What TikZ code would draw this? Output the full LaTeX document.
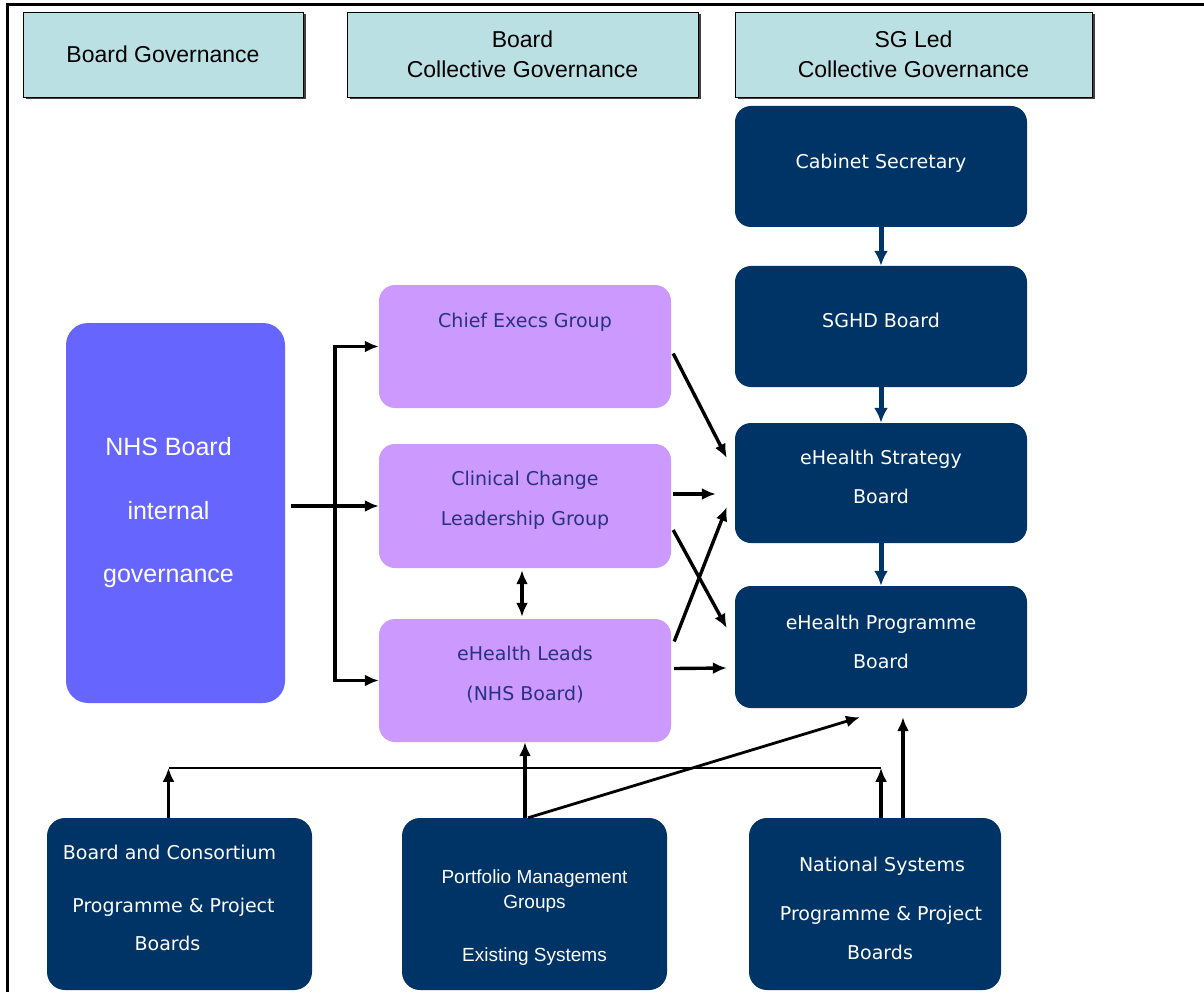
\documentclass[tikz,border=0pt]{standalone}
\usepackage{fontspec}
\setmainfont{Liberation Sans}
\newfontfamily\vfont{DejaVu Sans}
\usetikzlibrary{arrows.meta,calc,shadows}
\definecolor{hdr}{RGB}{187,224,227}
\definecolor{navy}{RGB}{0,51,102}
\definecolor{lilac}{RGB}{204,153,255}
\definecolor{nhsblue}{RGB}{102,102,255}
\definecolor{lilactext}{RGB}{40,50,130}
\newcommand{\pad}[1]{\rule{#1}{0pt}}
\begin{document}
\begin{tikzpicture}[x=1pt,y=-1pt,
  hdrbox/.style={draw=black, line width=0.9pt, fill=hdr, minimum height=85pt, inner sep=0pt, align=center,
    font=\fontsize{23}{30}\selectfont,
    drop shadow={shadow xshift=2.5pt, shadow yshift=-2.5pt, fill=black!75, opacity=1}},
  navybox/.style={fill=navy, rounded corners=16pt, minimum width=292pt, text=white, align=center, inner sep=0pt,
    font=\vfont\fontsize{19}{39}\selectfont},
  lilacbox/.style={fill=lilac, rounded corners=16pt, minimum width=292pt, text=lilactext, align=center, inner sep=0pt,
    font=\vfont\fontsize{19}{40}\selectfont},
  botbox/.style={fill=navy, rounded corners=18pt, minimum height=172pt, text=white, align=center, inner sep=0pt},
  arr/.style={line width=3.4pt, -{Latex[length=14pt,width=12pt]}},
  darr/.style={line width=3.4pt, {Latex[length=14pt,width=12pt]}-{Latex[length=14pt,width=12pt]}},
  navyarr/.style={draw=navy, line width=5pt, -{Latex[length=15pt,width=14pt]}},
]
\useasboundingbox (0,0) rectangle (1204,992);
\fill[white] (0,0) rectangle (1204,992);
% frame
\draw[line width=3pt] (7,992) -- (7,5) -- (1204,5);

% headers
\node[hdrbox, minimum width=280pt] (h1) at (163,54.5) {Board Governance};
\node[hdrbox, minimum width=351pt] (h2) at (522.5,54.5) {Board\\Collective Governance};
\node[hdrbox, minimum width=357pt] (h3) at (913.5,54.5) {SG Led\\Collective Governance};

% SG column
\node[navybox, minimum height=121pt, text depth=11pt] (cab) at (881,166.5) {Cabinet Secretary};
\node[navybox, minimum height=121pt, text depth=13pt] (sghd) at (881,326.5) {SGHD Board};
\node[navybox, minimum height=120pt, text depth=13pt] (strat) at (881,483) {eHealth Strategy\\Board};
\node[navybox, minimum height=122pt, text depth=10pt] (prog) at (881,647) {eHealth Programme\\Board};

% lilac column
\node[lilacbox, minimum height=123pt, text depth=53pt] (chief) at (525,346.5) {Chief Execs Group};
\node[lilacbox, minimum height=124pt, text depth=16pt] (clin) at (525,506) {Clinical Change\\Leadership Group};
\node[lilacbox, minimum height=123pt, text depth=14pt] (leads) at (525,680.5) {eHealth Leads\\(NHS Board)};

% NHS board
\node[fill=nhsblue, rounded corners=22pt, minimum width=219pt, minimum height=380pt, text=white, align=center, inner sep=0pt,
  font=\fontsize{25}{63.5}\selectfont] (nhs) at (175.5,513)
  {NHS Board\pad{14pt}\\internal\pad{14pt}\\governance\pad{14pt}};

% bottom row
\node[botbox, minimum width=265pt, text depth=13pt, font=\vfont\fontsize{19}{38}\selectfont] (bc) at (179.5,904)
  {Board and Consortium\pad{20pt}\\[15pt]Programme \& Project\pad{12pt}\\Boards\pad{24pt}};
\node[botbox, minimum width=265pt, text height=118pt, font=\fontsize{19}{25}\selectfont] (port) at (534.5,904)
  {Portfolio Management\\Groups\\[28pt]Existing Systems};
\node[botbox, minimum width=252pt, text height=112pt, font=\vfont\fontsize{19}{39}\selectfont] (nat) at (875,904)
  {\pad{14pt}National Systems\\[10pt]\pad{12pt}Programme \& Project\\\pad{10pt}Boards};

% navy arrows
\draw[navyarr] (cab.south) -- (sghd.north);
\draw[navyarr] (sghd.south) -- (strat.north);
\draw[navyarr] (strat.south) -- (prog.north);

% NHS to lilac
\coordinate (j) at (335,507);
\draw[arr, shorten <=6pt] (nhs.east |- clin.west) -- (clin.west);
\draw[darr] (chief.west) -| (j) |- (leads.west);

% lilac to SG
\draw[arr] ($(chief.east)+(2,7)$) -- ($(strat.west)+(-8,-25)$);
\draw[arr] ($(clin.east)+(2,-12)$) -- ($(strat.west)+(-19,11)$);
\draw[arr] ($(clin.east)+(2,24)$) -- ($(prog.west)+(-8,-19)$);
\draw[arr] ($(leads.east)+(3,-39)$) -- ($(strat.west)+(-8,24)$);
\draw[arr] ($(leads.east)+(3,-12)$) -- ($(prog.west)+(-8,21)$);
\draw[darr] ($(clin.south)+(-3,2)$) -- ($(leads.north)+(-3,-2)$);

% bottom connectors
\coordinate (hl1) at ($(bc.north)+(-11,-50)$);
\coordinate (hl2) at ($(nat.north)+(6,-50)$);
\draw[line width=2pt] (hl1) -- (hl2);
\draw[arr] ($(bc.north)+(-11,0)$) -- (hl1);
\draw[arr] ($(nat.north)+(6,0)$) -- (hl2);
\draw[arr] (port.north -| leads.south) -- (leads.south);
\draw[line width=2.8pt, -{Latex[length=14pt,width=12pt]}] ($(port.north -| leads.south)+(3,0)$) -- ($(prog.south)+(-21,9)$);
\draw[arr] ($(nat.north)+(28,0)$) -- ($(prog.south)+(22,9)$);
\end{tikzpicture}
\end{document}
